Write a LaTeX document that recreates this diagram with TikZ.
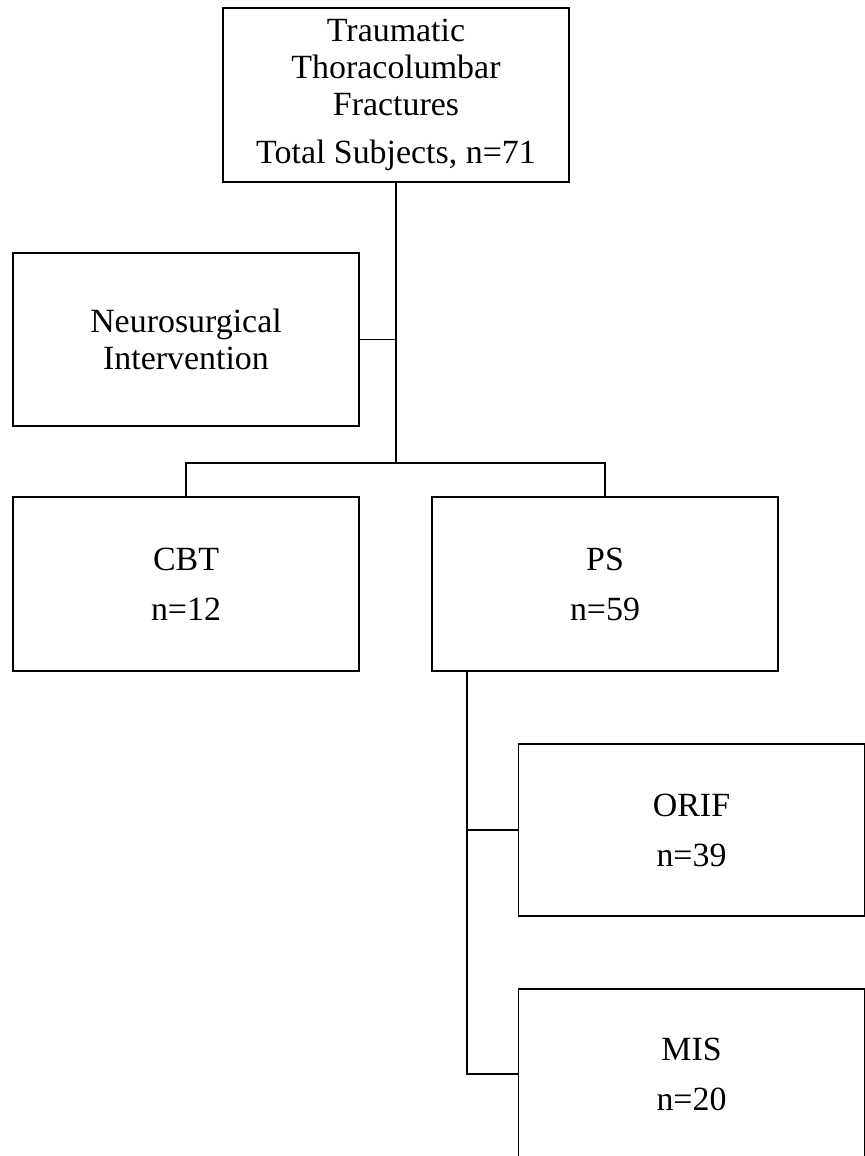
\documentclass[tikz,border=0pt]{standalone}
\usepackage{fontspec}
\setmainfont{Liberation Serif}
\usetikzlibrary{positioning}
\tikzset{
    flowbox/.style={
        rectangle,
        draw=black,
        line width=1pt, % 边框
        minimum width=6.92cm,
        minimum height=3.46cm,
        inner sep=0,
        align=center,
        font=\fontsize{19.3}{21}\selectfont
    },
    link/.style={
        draw=black,
        line width=1pt
    }
}

\begin{document}
\begin{tikzpicture}[x=0.02cm, y=-0.02cm]
    \useasboundingbox (0,0) rectangle (865,1156);
    \begin{scope}
    \clip (0,0) rectangle (865,1156);
    % 方框
    \node[flowbox, minimum height=3.48cm] (total) at (396,95)
        {Traumatic\\Thoracolumbar\\Fractures\\[6.3pt]Total Subjects, n=71};
    \node[flowbox] (neuro) at (186,339.5) {Neurosurgical\\Intervention};
    \node[flowbox, minimum height=3.48cm] (cbt) at (186,584) {CBT\\[7.5pt]n=12};
    \node[flowbox, minimum height=3.48cm] (ps) at (605,584) {PS\\[7.5pt]n=59};
    \node[flowbox, minimum height=3.44cm] (orif) at (691.5,830) {ORIF\\[7.5pt]n=39};
    \node[flowbox, minimum height=3.4cm] (mis) at (691.5,1074) {MIS\\[7.5pt]n=20};
    % 连线
    \coordinate (split) at (396,463);
    \coordinate (trunk) at (467,671);
    \draw[link] (total.south) -- (split);
    \draw[link] (neuro.east) -- (neuro.east -| total.south);
    \draw[link] (cbt.north) |- (split) -| (ps.north);
    \draw[link] (trunk) |- (orif.west);
    \draw[link] (trunk) |- (mis.west);
    \end{scope}
\end{tikzpicture}
\end{document}
